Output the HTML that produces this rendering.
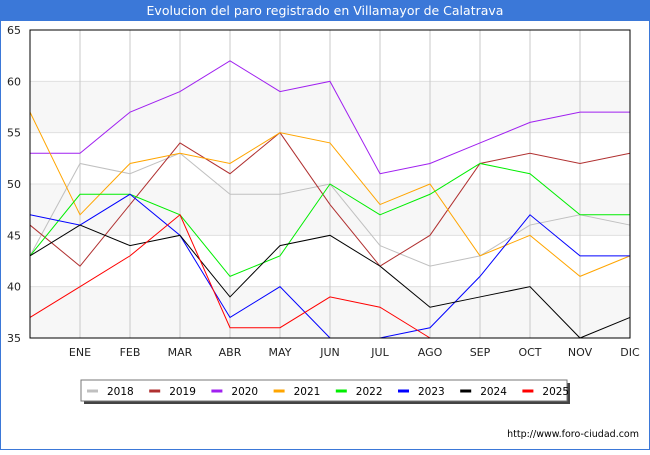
<!DOCTYPE html>
<html><head><meta charset="utf-8"><style>
body{margin:0;width:650px;height:450px;overflow:hidden;background:#fff;font-family:"Liberation Sans","DejaVu Sans",sans-serif}
</style></head><body>
<svg id="chart" width="650" height="450" xmlns="http://www.w3.org/2000/svg" font-family="DejaVu Sans, Liberation Sans, sans-serif">
<rect x="0.5" y="0.5" width="649" height="449" fill="#fff" stroke="#3b78d8" stroke-width="1"/>
<rect x="0" y="0" width="650" height="21" fill="#3b78d8"/>
<text x="325" y="15" text-anchor="middle" fill="#fff" font-size="12.5">Evolucion del paro registrado en Villamayor de Calatrava</text>
<g id="bands"></g><g id="grid"></g><g id="series"></g>
<rect x="30" y="30" width="600" height="308" fill="none" stroke="#000" stroke-width="1"/>
<g id="axes"></g>
<g>
<rect x="84" y="383" width="486" height="21" fill="#444"/>
<rect x="81" y="380" width="486" height="21" fill="#fff" stroke="#777"/>
<g id="legend"></g>
</g>
<text x="639" y="437" text-anchor="end" font-size="9.5" fill="#000">http://www.foro-ciudad.com</text>
</svg>
<script>
const months=["","ENE","FEB","MAR","ABR","MAY","JUN","JUL","AGO","SEP","OCT","NOV","DIC"];
const yTicks=[35,40,45,50,55,60,65];
const years=["2018","2019","2020","2021","2022","2023","2024","2025"];
const colors=["#c0c0c0","#b03030","#a020f0","#ffa500","#00ee00","#0000ff","#000000","#ff0000"];
const s2018=[43,52,51,53,49,49,50,44,42,43,46,47,46];
const s2019=[46,42,48,54,51,55,48,42,45,52,53,52,53];
const s2020=[53,53,57,59,62,59,60,51,52,54,56,57,57];
const s2021=[57,47,52,53,52,55,54,48,50,43,45,41,43];
const s2022=[43,49,49,47,41,43,50,47,49,52,51,47,47];
const s2023=[47,46,49,45,37,40,35,35,36,41,47,43,43];
const s2024=[43,46,44,45,39,44,45,42,38,39,40,35,37];
const s2025=[37,40,43,47,36,36,39,38,35];
const series=[s2018,s2019,s2020,s2021,s2022,s2023,s2024,s2025];
const NS="http://www.w3.org/2000/svg";
const X=i=>30+i*50, Y=v=>338-(v-35)*308/30;
function mk(t,a,p){const e=document.createElementNS(NS,t);for(const k in a)e.setAttribute(k,a[k]);p.appendChild(e);return e;}
const bands=document.getElementById('bands'),grid=document.getElementById('grid'),axes=document.getElementById('axes'),ser=document.getElementById('series'),leg=document.getElementById('legend');
for(let k=0;k<yTicks.length-1;k++){if(k%2==0){const r=mk('rect',{x:30,y:Y(yTicks[k+1]),width:600,height:Y(yTicks[k])-Y(yTicks[k+1]),fill:'#f7f7f7'},bands);

}}
yTicks.forEach(v=>{const l=mk('line',{x1:30,x2:630,y1:Y(v),y2:Y(v),stroke:'#e0e0e0'},grid);


const t=mk('text',{x:21,y:Y(v)+4,'text-anchor':'end','font-size':'11',fill:'#222'},axes);t.textContent=v;

});
months.forEach((m,i)=>{if(!m)return;const l=mk('line',{x1:X(i),x2:X(i),y1:30,y2:338,stroke:'#c8c8c8'},grid);


const t=mk('text',{x:X(i),y:356,'text-anchor':'middle','font-size':'11',fill:'#222'},axes);t.textContent=m;

});
series.forEach((d,s)=>{const p=mk('polyline',{points:d.map((v,i)=>X(i)+','+Y(v)).join(' '),fill:'none',stroke:colors[s],'stroke-width':1},ser);


const lx=87+s*62.2;
const sw=mk('line',{x1:lx,x2:lx+11,y1:391,y2:391,stroke:colors[s],'stroke-width':3},leg);


const t=mk('text',{x:lx+20,y:395,'font-size':'10.5',fill:'#000'},leg);t.textContent=years[s];

});
</script>
</body></html>
